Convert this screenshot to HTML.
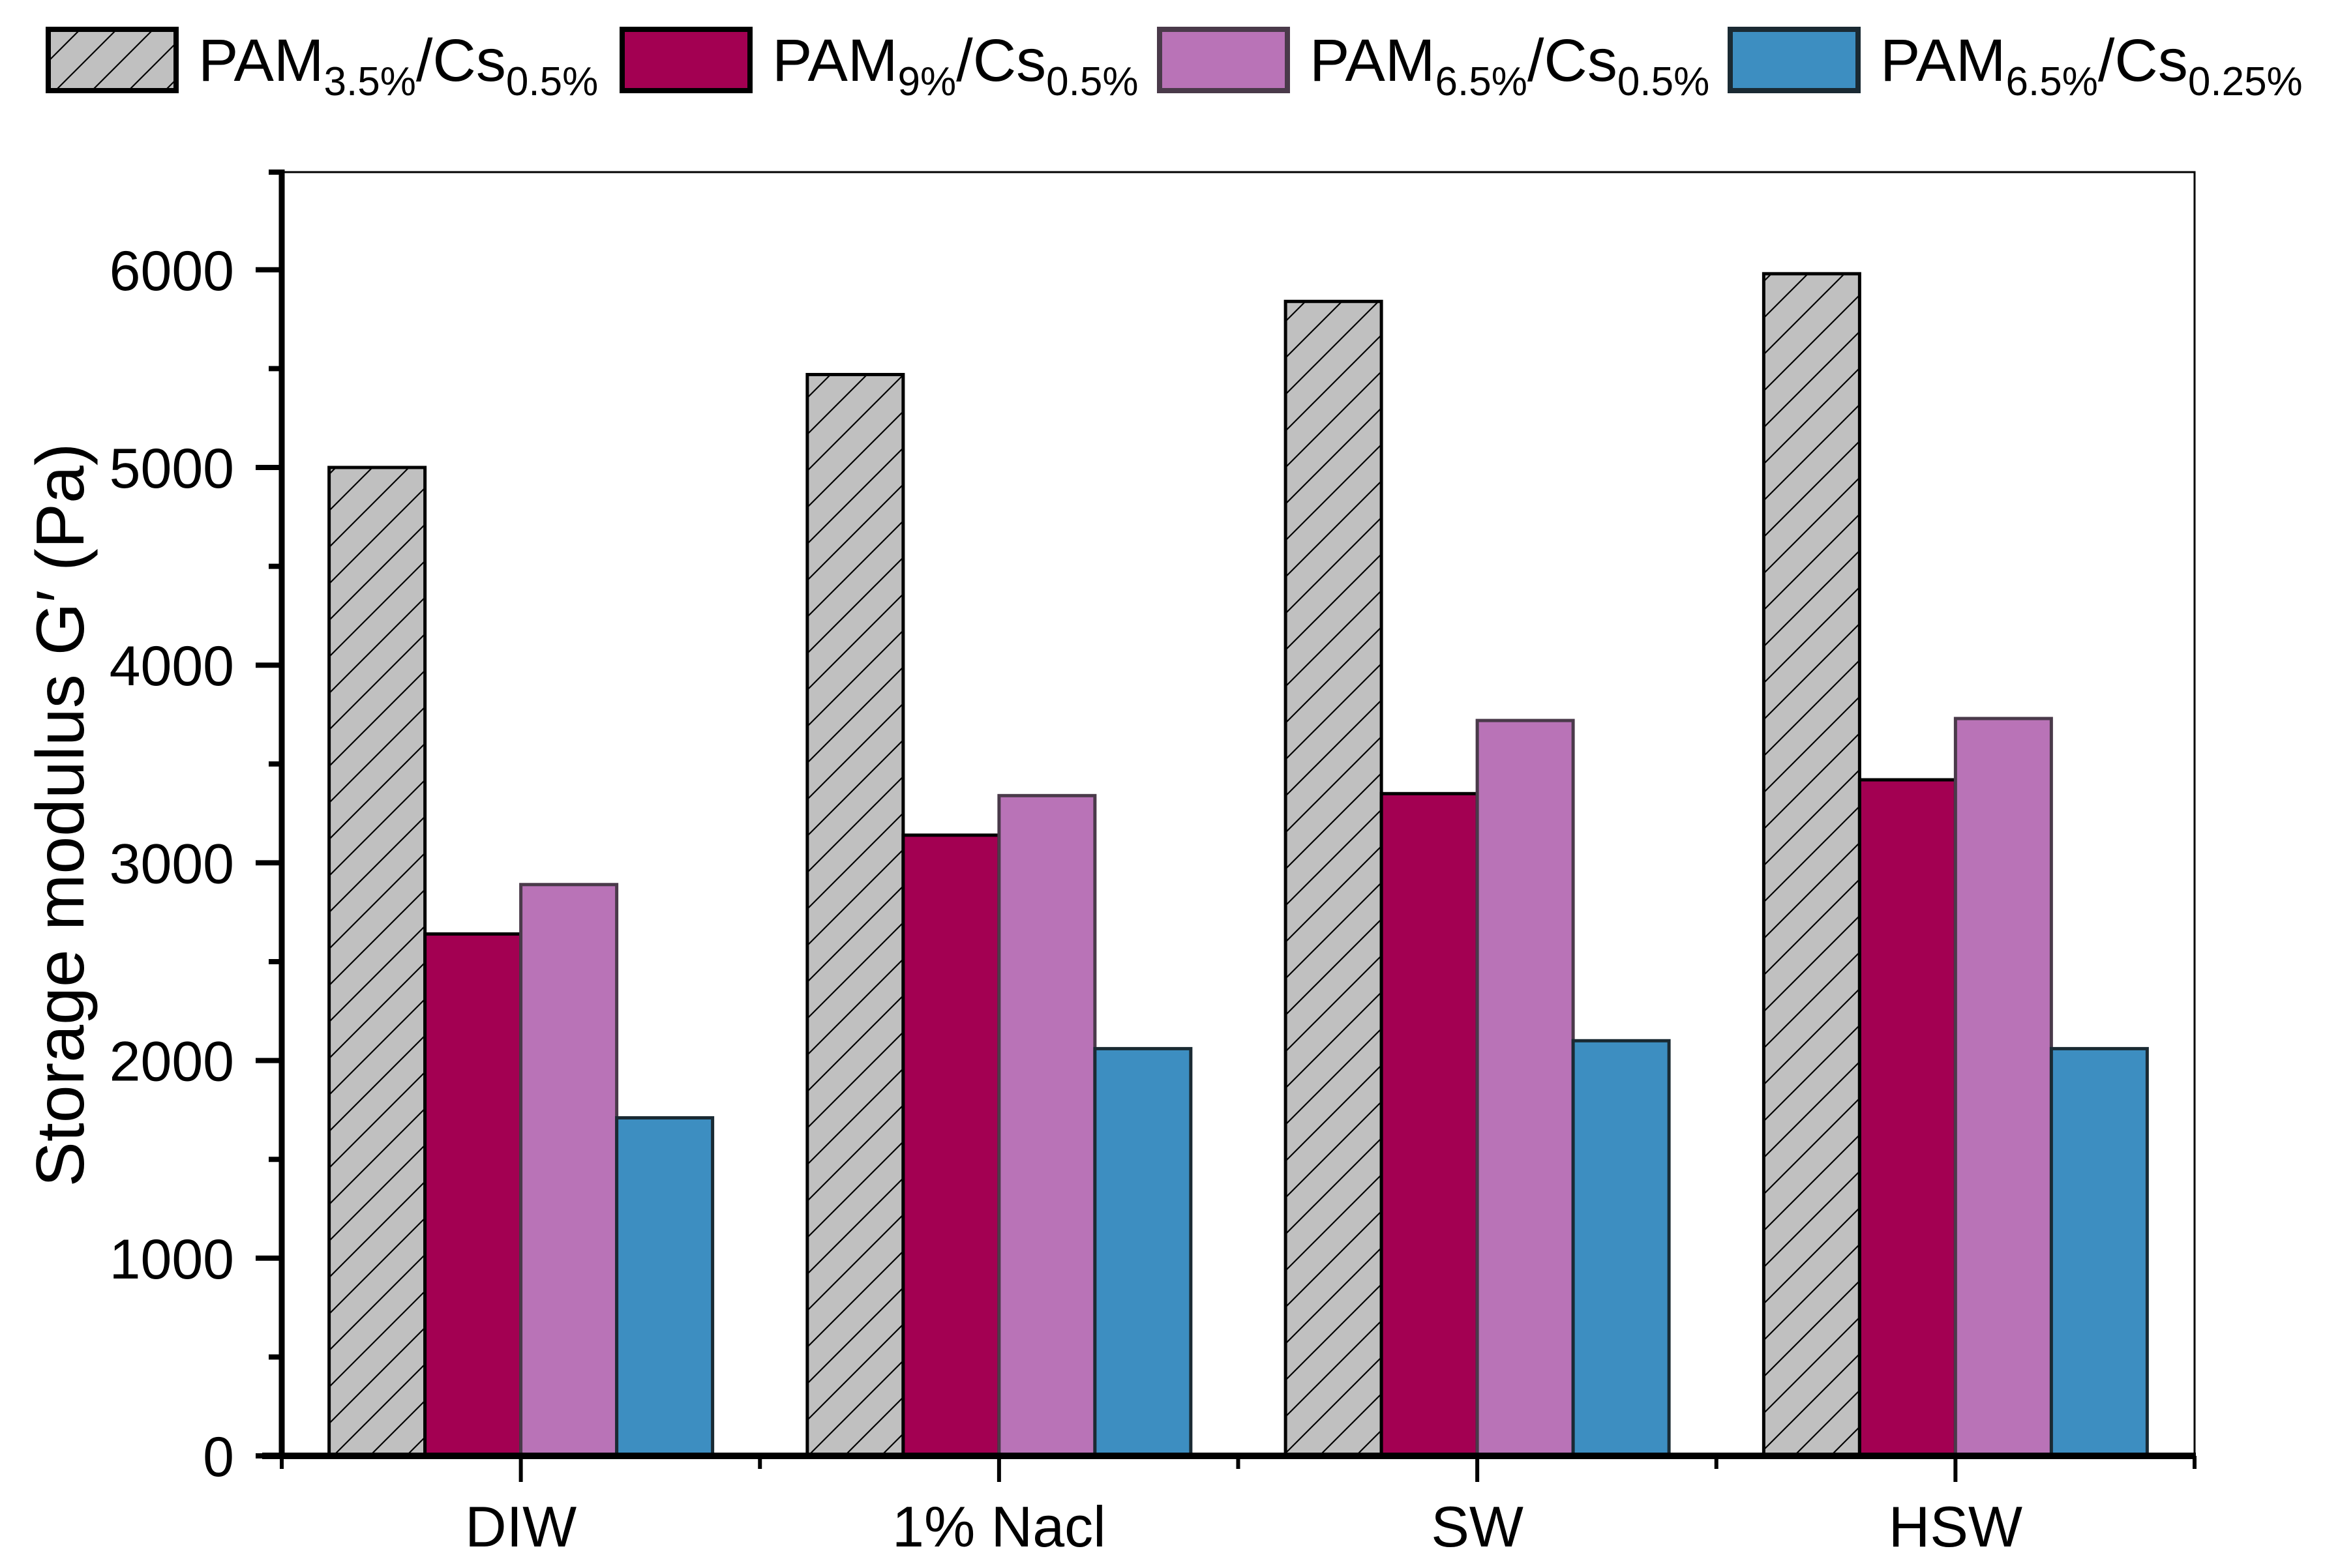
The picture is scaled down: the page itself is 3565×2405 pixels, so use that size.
<!DOCTYPE html>
<html><head><meta charset="utf-8">
<style>
html,body{margin:0;padding:0;background:#fff;}
svg{display:block;font-family:"Liberation Sans",Arial,sans-serif;}
</style></head>
<body>
<svg id="chart" width="3565" height="2405" viewBox="0 0 3565 2405" xmlns="http://www.w3.org/2000/svg">
<defs>
<pattern id="hatch" patternUnits="userSpaceOnUse" width="56" height="56">
<rect width="56" height="56" fill="#c0c0c0"/>
<path d="M0,56 L56,0 M-10,10 L10,-10 M46,66 L66,46" stroke="#000" stroke-width="2.2"/>
</pattern>
</defs>
<g id="legend"></g>
<g id="plot"></g>
<text transform="translate(128,1250) rotate(-90)" text-anchor="middle" font-size="104">Storage modulus G′ (Pa)</text>
</svg>
<script>
const categories = ["DIW","1% Nacl","SW","HSW"];
const seriesA = [5000,5470,5840,5980];
const seriesB = [2640,3140,3350,3420];
const seriesC = [2890,3340,3720,3730];
const seriesD = [1710,2060,2100,2060];
const yTicks = [0,1000,2000,3000,4000,5000,6000];
const seriesNames = [["3.5%","0.5%"],["9%","0.5%"],["6.5%","0.5%"],["6.5%","0.25%"]];

const NS="http://www.w3.org/2000/svg";
const L=432,R=3365,T=264,B=2233,Y0=2233,PER=303.2;
const fills=["url(#hatch)","#a30052","#b973b7","#3d8ec1"];
const strokes=["#000","#000","#4a3a4a","#1a2a33"];
const y=v=>Y0-v*PER/1000;
const gw=(R-L)/categories.length;
const xc=i=>L+gw*(i+0.5);
const bw=147;
function mk(tag,attrs,parent){const e=document.createElementNS(NS,tag);for(const k in attrs)e.setAttribute(k,attrs[k]);parent.appendChild(e);return e;}
const plot=document.getElementById('plot');
const all=[seriesA,seriesB,seriesC,seriesD];
all.forEach((s,si)=>{
  s.forEach((v,ci)=>{
    const x=xc(ci)-2*bw+si*bw;
    const r=mk('rect',{x:x,y:y(v),width:bw,height:Y0-y(v),fill:fills[si],stroke:strokes[si],'stroke-width':5},plot);
    
    
  });
});
const fr=mk('rect',{x:L,y:T,width:R-L,height:B-T,fill:'none',stroke:'#000','stroke-width':3},plot);


const ya=mk('line',{x1:L,y1:T-4,x2:L,y2:B+5,stroke:'#000','stroke-width':9},plot);


const xa=mk('line',{x1:L-30,y1:B,x2:R+2,y2:B,stroke:'#000','stroke-width':10},plot);


yTicks.forEach(t=>{
  const tk=mk('line',{x1:L-40,y1:y(t),x2:L,y2:y(t),stroke:'#000','stroke-width':8},plot);
  
  
  const tx=mk('text',{x:359,y:y(t)+31,'text-anchor':'end','font-size':86},plot);
  tx.textContent=t;
  
  
  if(t<6000){
    const mn=mk('line',{x1:L-20,y1:y(t+500),x2:L,y2:y(t+500),stroke:'#000','stroke-width':8},plot);
    
    
  }
});
const mt=mk('line',{x1:L-20,y1:T,x2:L,y2:T,stroke:'#000','stroke-width':8},plot);


categories.forEach((c,i)=>{
  const tk=mk('line',{x1:xc(i),y1:B,x2:xc(i),y2:B+40,stroke:'#000','stroke-width':6},plot);
  
  
  const tx=mk('text',{x:xc(i),y:2372,'text-anchor':'middle','font-size':88},plot);
  tx.textContent=c;
  
  
});
for(let i=0;i<=categories.length;i++){
  const mn=mk('line',{x1:L+gw*i,y1:B,x2:L+gw*i,y2:B+20,stroke:'#000','stroke-width':6},plot);
  
  
}
const lg=document.getElementById('legend');
const boxX=[70,950,1774,2649];
seriesNames.forEach((n,i)=>{
  const r=mk('rect',{x:boxX[i]+4,y:45,width:196,height:94,fill:fills[i],stroke:strokes[i],'stroke-width':8},lg);
  
  
  const t=mk('text',{x:boxX[i]+234,y:124,'font-size':92},lg);
  
  
  t.innerHTML='PAM<tspan dy="22" font-size="62">'+n[0]+'</tspan><tspan dy="-22">/Cs</tspan><tspan dy="22" font-size="62">'+n[1]+'</tspan>';
});
</script>
</body></html>
